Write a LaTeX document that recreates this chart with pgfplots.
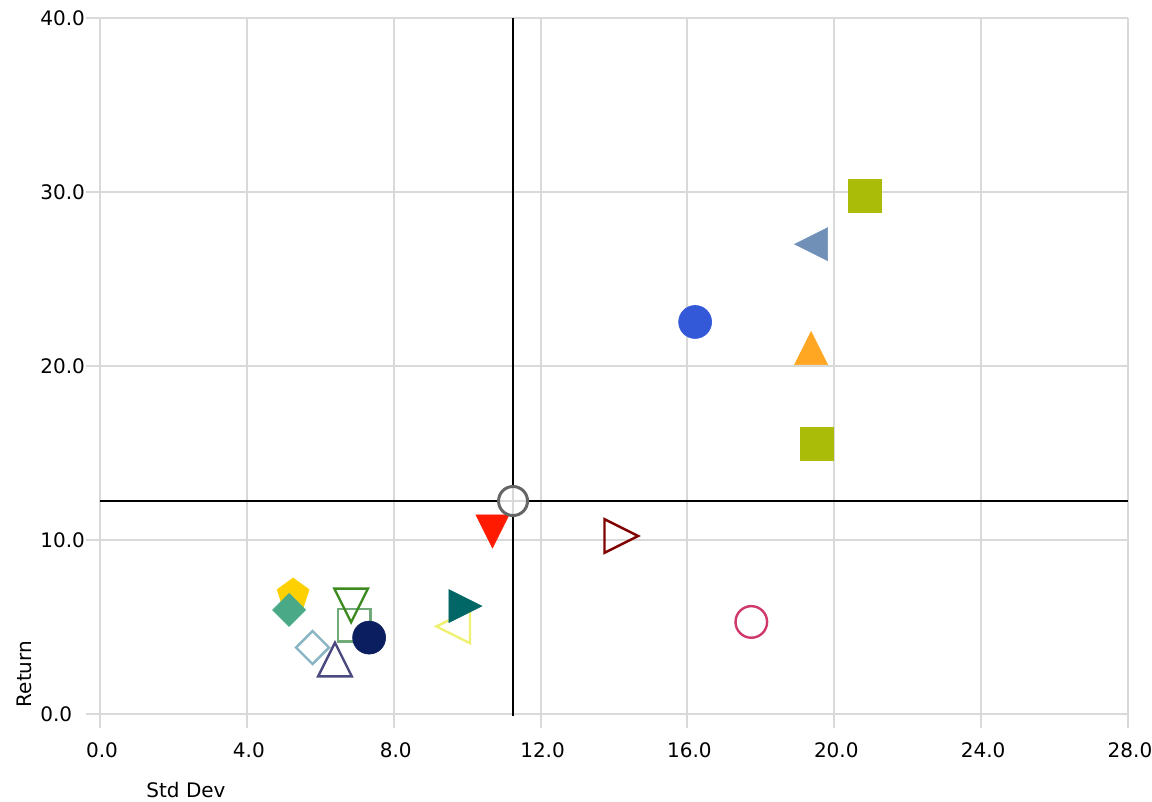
\documentclass[border=0pt]{standalone}
\usepackage{fontspec}
\setmainfont{DejaVu Sans}
\usepackage{pgfplots}
\pgfplotsset{compat=1.18}

\definecolor{gridgray}{HTML}{D9D9D9}
\definecolor{cgold}{HTML}{FFD000}
\definecolor{cgreen}{HTML}{4AAA88}
\definecolor{clblue}{HTML}{88B4C4}
\definecolor{cpurple}{HTML}{4A4A80}
\definecolor{csq}{HTML}{70AA78}
\definecolor{cdgreen}{HTML}{3C8A20}
\definecolor{cnavy}{HTML}{0B1F60}
\definecolor{cyellow}{HTML}{F0F070}
\definecolor{cteal}{HTML}{006666}
\definecolor{cred}{HTML}{FF1A00}
\definecolor{cdred}{HTML}{800000}
\definecolor{cpink}{HTML}{D0386C}
\definecolor{cblue}{HTML}{3358D8}
\definecolor{corange}{HTML}{FFA623}
\definecolor{cslate}{HTML}{7090B8}
\definecolor{colive}{HTML}{AABB08}
\definecolor{cgray}{HTML}{666666}

% box-shaped triangles and diamonds
\newcommand\pathtu{\pgfpathmoveto{\pgfqpoint{0pt}{\pgfplotmarksize}}\pgfpathlineto{\pgfqpoint{\pgfplotmarksize}{-\pgfplotmarksize}}\pgfpathlineto{\pgfqpoint{-\pgfplotmarksize}{-\pgfplotmarksize}}\pgfpathclose}
\newcommand\pathtd{\pgfpathmoveto{\pgfqpoint{0pt}{-\pgfplotmarksize}}\pgfpathlineto{\pgfqpoint{\pgfplotmarksize}{\pgfplotmarksize}}\pgfpathlineto{\pgfqpoint{-\pgfplotmarksize}{\pgfplotmarksize}}\pgfpathclose}
\newcommand\pathtr{\pgfpathmoveto{\pgfqpoint{\pgfplotmarksize}{0pt}}\pgfpathlineto{\pgfqpoint{-\pgfplotmarksize}{\pgfplotmarksize}}\pgfpathlineto{\pgfqpoint{-\pgfplotmarksize}{-\pgfplotmarksize}}\pgfpathclose}
\newcommand\pathtl{\pgfpathmoveto{\pgfqpoint{-\pgfplotmarksize}{0pt}}\pgfpathlineto{\pgfqpoint{\pgfplotmarksize}{\pgfplotmarksize}}\pgfpathlineto{\pgfqpoint{\pgfplotmarksize}{-\pgfplotmarksize}}\pgfpathclose}
\newcommand\pathdm{\pgfpathmoveto{\pgfqpoint{0pt}{\pgfplotmarksize}}\pgfpathlineto{\pgfqpoint{\pgfplotmarksize}{0pt}}\pgfpathlineto{\pgfqpoint{0pt}{-\pgfplotmarksize}}\pgfpathlineto{\pgfqpoint{-\pgfplotmarksize}{0pt}}\pgfpathclose}
\pgfdeclareplotmark{tu}{\pathtu\pgfusepathqstroke}
\pgfdeclareplotmark{tu*}{\pathtu\pgfusepathqfillstroke}
\pgfdeclareplotmark{td}{\pathtd\pgfusepathqstroke}
\pgfdeclareplotmark{td*}{\pathtd\pgfusepathqfillstroke}
\pgfdeclareplotmark{tr}{\pathtr\pgfusepathqstroke}
\pgfdeclareplotmark{tr*}{\pathtr\pgfusepathqfillstroke}
\pgfdeclareplotmark{tl}{\pathtl\pgfusepathqstroke}
\pgfdeclareplotmark{tl*}{\pathtl\pgfusepathqfillstroke}
\pgfdeclareplotmark{dm}{\pathdm\pgfusepathqstroke}
\pgfdeclareplotmark{dm*}{\pathdm\pgfusepathqfillstroke}

\pgfplotsset{
  openm/.style={only marks, mark size=8.4pt, mark options={line width=1.2pt}},
  fillm/.style={only marks, mark size=8.25pt, mark options={line width=0.3pt}},
}

\begin{document}
\begin{tikzpicture}
\useasboundingbox (-50pt,-44pt) rectangle (526pt,357pt);
\begin{axis}[
  scale only axis,
  width=514pt, height=348pt,
  xmin=0, xmax=28, ymin=0, ymax=40,
  xtick={0,4,...,28}, ytick={0,10,...,40},
  axis line style={draw=none},
  grid=major,
  grid style={gridgray, line width=1pt},
  tick pos=left,
  tick align=outside,
  major tick length=7pt,
  tick style={gridgray, line width=1pt},
  tick label style={font=\fontsize{10}{12}\selectfont, text=black, inner sep=0pt},
  /pgf/number format/.cd, fixed, fixed zerofill, precision=1, assume math mode=true,
  /pgfplots/.cd,
  yticklabel style={anchor=west, xshift=-23pt},
  xticklabel style={anchor=north, yshift=-7pt, xshift=1pt},
  xlabel={Std Dev},
  ylabel={Return},
  label style={font=\fontsize{10}{12}\selectfont},
  xlabel style={at={(axis description cs:0,0)}, anchor=center, xshift=43pt, yshift=-38pt},
  ylabel style={at={(axis description cs:0,0)}, anchor=center, xshift=20pt, yshift=38pt},
  clip=false,
]
% reference cross
\addplot[black, line width=1pt] coordinates {(11.25,-0.1) (11.25,40)};
\addplot[black, line width=1pt] coordinates {(0,12.24) (28,12.24)};

\addplot[only marks, mark=pentagon*, mark size=8.4pt, color=cgold, mark options={line width=0.3pt}] coordinates {(5.26,6.85)};
\addplot[fillm, mark=dm*, color=cgreen] coordinates {(5.15,5.98)};
\addplot[openm, mark=dm, color=clblue, mark size=8.25pt] coordinates {(5.79,3.82)};
\addplot[openm, mark=tu, color=cpurple] coordinates {(6.40,3.13)};
\addplot[openm, mark=square, color=csq, mark size=8.1pt] coordinates {(6.93,5.09)};
\addplot[openm, mark=td, color=cdgreen] coordinates {(6.84,6.24)};
\addplot[only marks, mark=*, mark size=8.25pt, color=cnavy, mark options={line width=0.3pt}] coordinates {(7.33,4.39)};
\addplot[openm, mark=tl, color=cyellow] coordinates {(9.62,5.03)};
\addplot[fillm, mark=tr*, color=cteal] coordinates {(9.95,6.2)};
\addplot[fillm, mark=td*, color=cred] coordinates {(10.69,10.49)};
\addplot[openm, mark=tr, color=cdred] coordinates {(14.2,10.23)};
\addplot[only marks, mark=o, mark size=7.9pt, color=cpink, mark options={line width=1.2pt}] coordinates {(17.74,5.29)};
\addplot[only marks, mark=*, mark size=8.25pt, color=cblue, mark options={line width=0.3pt}] coordinates {(16.21,22.53)};
\addplot[fillm, mark=tu*, color=corange] coordinates {(19.37,21.03)};
\addplot[fillm, mark=tl*, color=cslate] coordinates {(19.37,27.0)};
\addplot[fillm, mark=square*, color=colive] coordinates {(20.84,29.77)};
\addplot[fillm, mark=square*, color=colive] coordinates {(19.52,15.52)};
% centre point
\addplot[only marks, mark=*, mark size=7.25pt, mark options={draw=cgray, fill=white, fill opacity=0.85, line width=1.5pt}] coordinates {(11.25,12.24)};
\end{axis}
\end{tikzpicture}
\end{document}
